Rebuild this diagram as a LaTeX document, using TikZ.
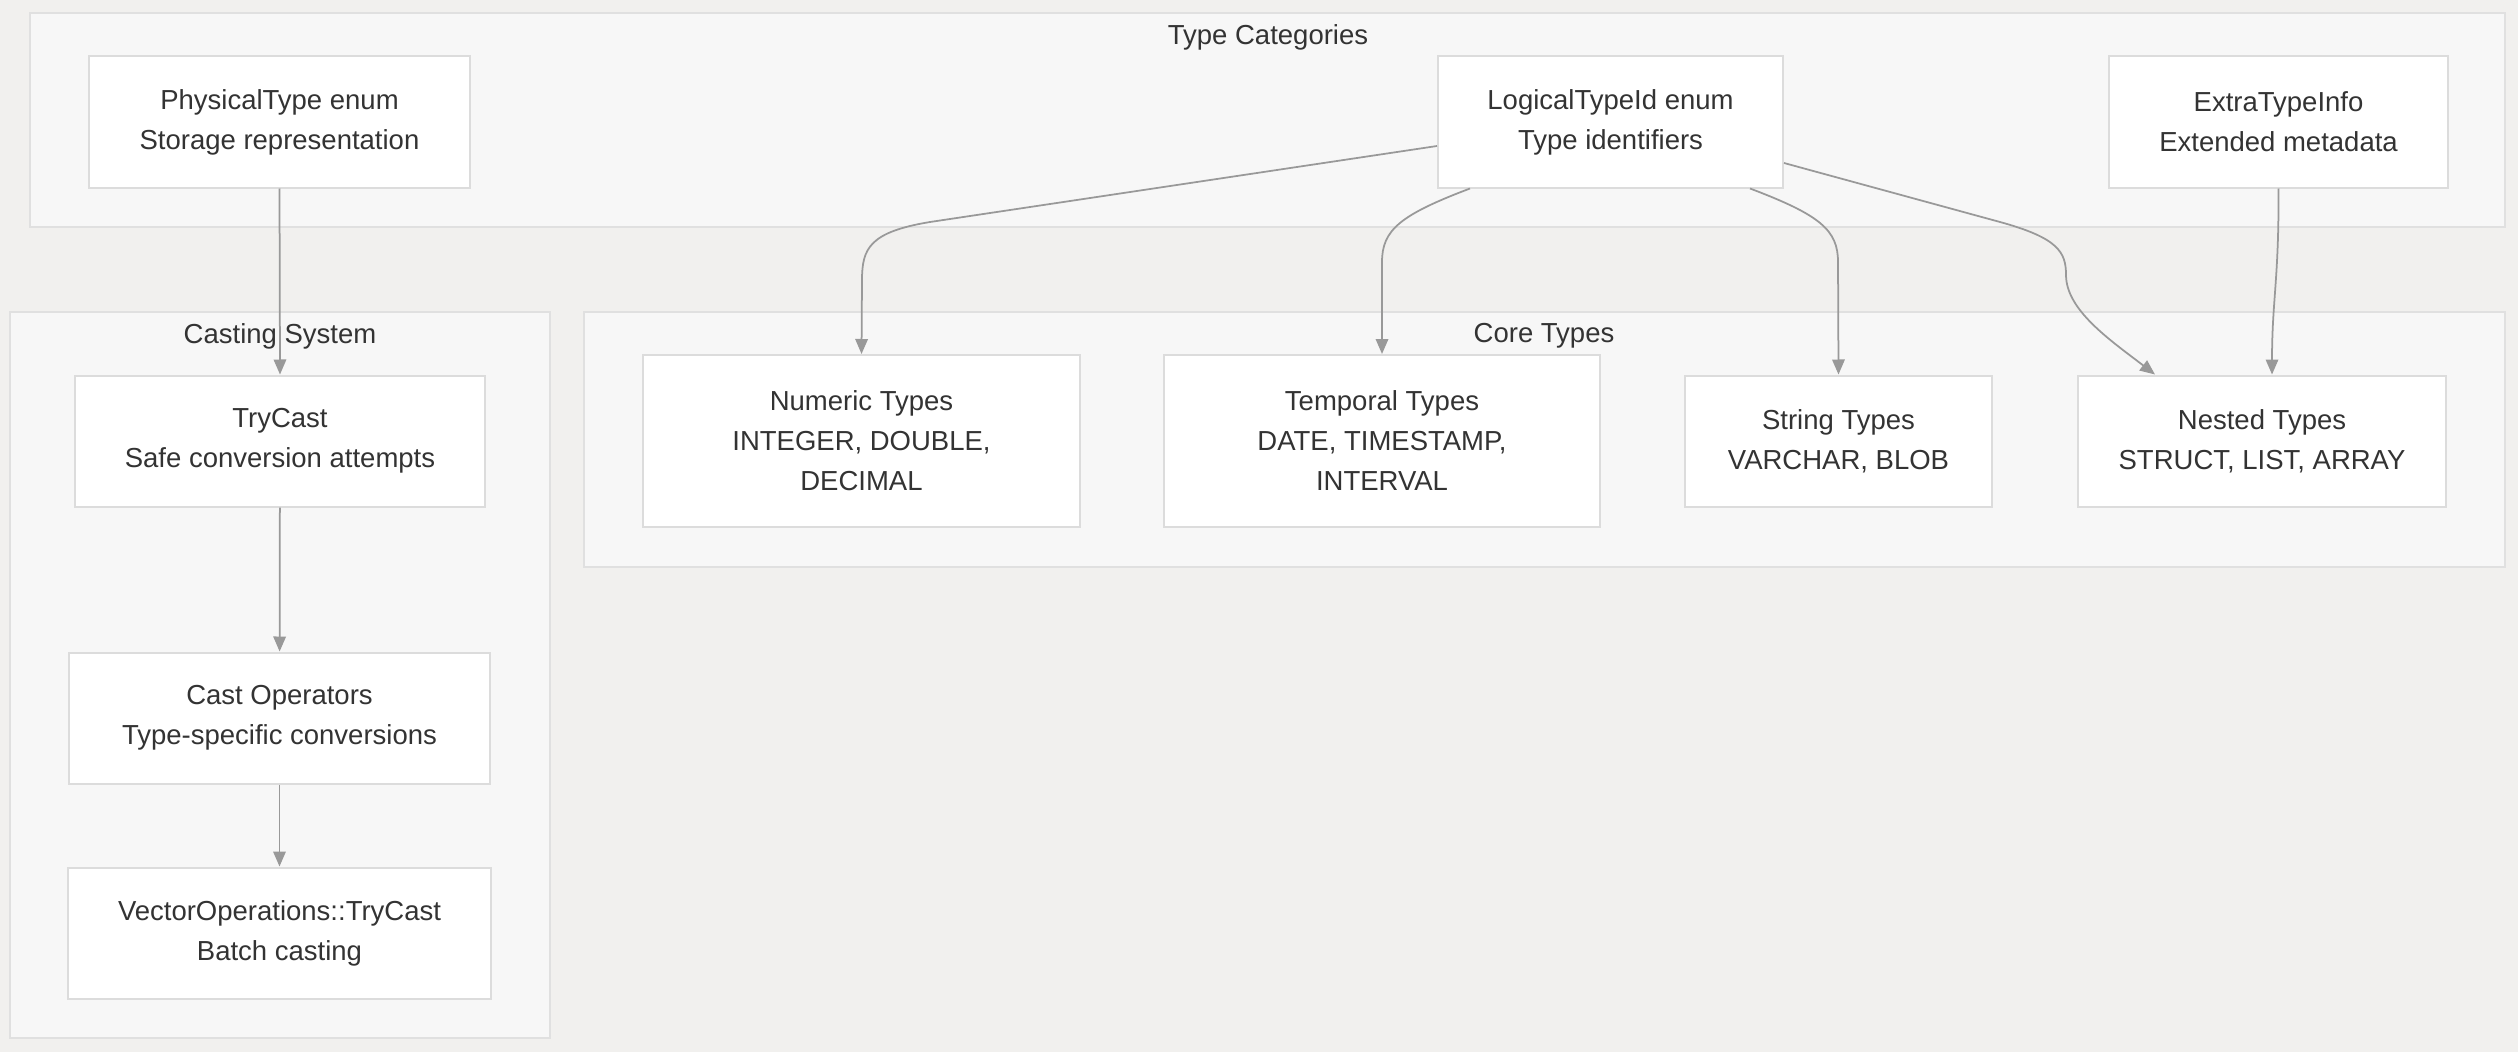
\documentclass[tikz,border=0pt]{standalone}
\usepackage{fontspec}
\setmainfont{Liberation Sans}
\usetikzlibrary{arrows.meta,positioning}
\definecolor{bgcol}{HTML}{F1F0EE}
\definecolor{grpfill}{HTML}{F7F7F7}
\definecolor{grpline}{HTML}{E0E0E0}
\definecolor{boxline}{HTML}{DCDCDC}
\definecolor{txtcol}{HTML}{333333}
\definecolor{linkcol}{HTML}{999999}
\tikzset{
typebox/.style={
  rectangle,
  draw=boxline,
  fill=white,
  line width=0.8pt,
  text=txtcol,
  align=center,
  inner sep=0pt,
  minimum height=52.4pt,
  font=\fontsize{11}{16}\selectfont
  },
tallbox/.style={typebox,minimum height=68.8pt}
}
\tikzset{
grp/.style={draw=grpline,fill=grpfill,line width=0.8pt},
grptitle/.style={text=txtcol,inner sep=0pt,font=\fontsize{11}{16}\selectfont},
link/.style={draw=linkcol,line width=0.7pt,-{Triangle[length=6pt,width=5pt]}}
}

\begin{document}
\begin{tikzpicture}[x=0.4pt,y=-0.4pt]

\fill[bgcol] (0,0) rectangle (2518,1052);
\useasboundingbox (0,0) rectangle (2518,1052);

\draw[grp] (30,13) rectangle (2505,227);
\draw[grp] (10,312) rectangle (550,1038);
\draw[grp] (584,312) rectangle (2505,567);

\node[grptitle] (tcat) at (1268,37) {Type Categories};
\node[grptitle] (tcast) at (280,336) {Casting System};
\node[grptitle] (tcore) at (1544,336) {Core Types};

\node[typebox,minimum width=152.4pt] (phys) at (279.5,122)
{PhysicalType enum\\Storage representation};

\node[typebox,minimum width=138pt] (logid) at (1610.5,122)
{LogicalTypeId enum\\Type identifiers};

\node[typebox,minimum width=135.6pt] (extra) at (2278.5,122)
{ExtraTypeInfo\\Extended metadata};

\node[typebox,minimum width=164pt] (trycast) at (280,441)
{TryCast\\Safe conversion attempts};

\node[typebox,minimum width=168.4pt] (castops) at (279.5,718)
{Cast Operators\\Type-specific conversions};

\node[typebox,minimum width=169.2pt] (vecops) at (279.5,933)
{VectorOperations::TryCast\\Batch casting};

\node[tallbox,minimum width=174.8pt] (numeric) at (861.5,441)
{Numeric Types\\INTEGER, DOUBLE,\\DECIMAL};

\node[tallbox,minimum width=174.4pt] (temporal) at (1382,441)
{Temporal Types\\DATE, TIMESTAMP,\\INTERVAL};

\node[typebox,minimum width=122.8pt] (string) at (1838.5,441)
{String Types\\VARCHAR, BLOB};

\node[typebox,minimum width=147.2pt] (nested) at (2262,441)
{Nested Types\\STRUCT, LIST, ARRAY};

\draw[link] (phys.south) -- (trycast.north);
\draw[link] (trycast) -- (castops);
\draw[link] (castops) -- (vecops);

\draw[link] ([yshift=-9.6pt]logid.west) -- (930,222)
  .. controls (870,232) and (862,248) .. (862,280) -- (numeric.north);
\draw[link] ([xshift=-56.2pt]logid.south)
  .. controls (1400,215) and (1382,230) .. (1382,262) -- (temporal.north);
\draw[link] ([xshift=55.8pt]logid.south)
  .. controls (1820,215) and (1838,230) .. (1838,262) -- (string.north);
\draw[link] ([yshift=-16.4pt]logid.east) -- (2000,222)
  .. controls (2058,238) and (2066,252) .. (2066,275)
  .. controls (2066,310) and (2110,340) .. ([xshift=-42.8pt]nested.north);
\draw[link] (extra.south)
  .. controls (2279,280) and (2272,300) .. ([xshift=4pt]nested.north);

\end{tikzpicture}
\end{document}
